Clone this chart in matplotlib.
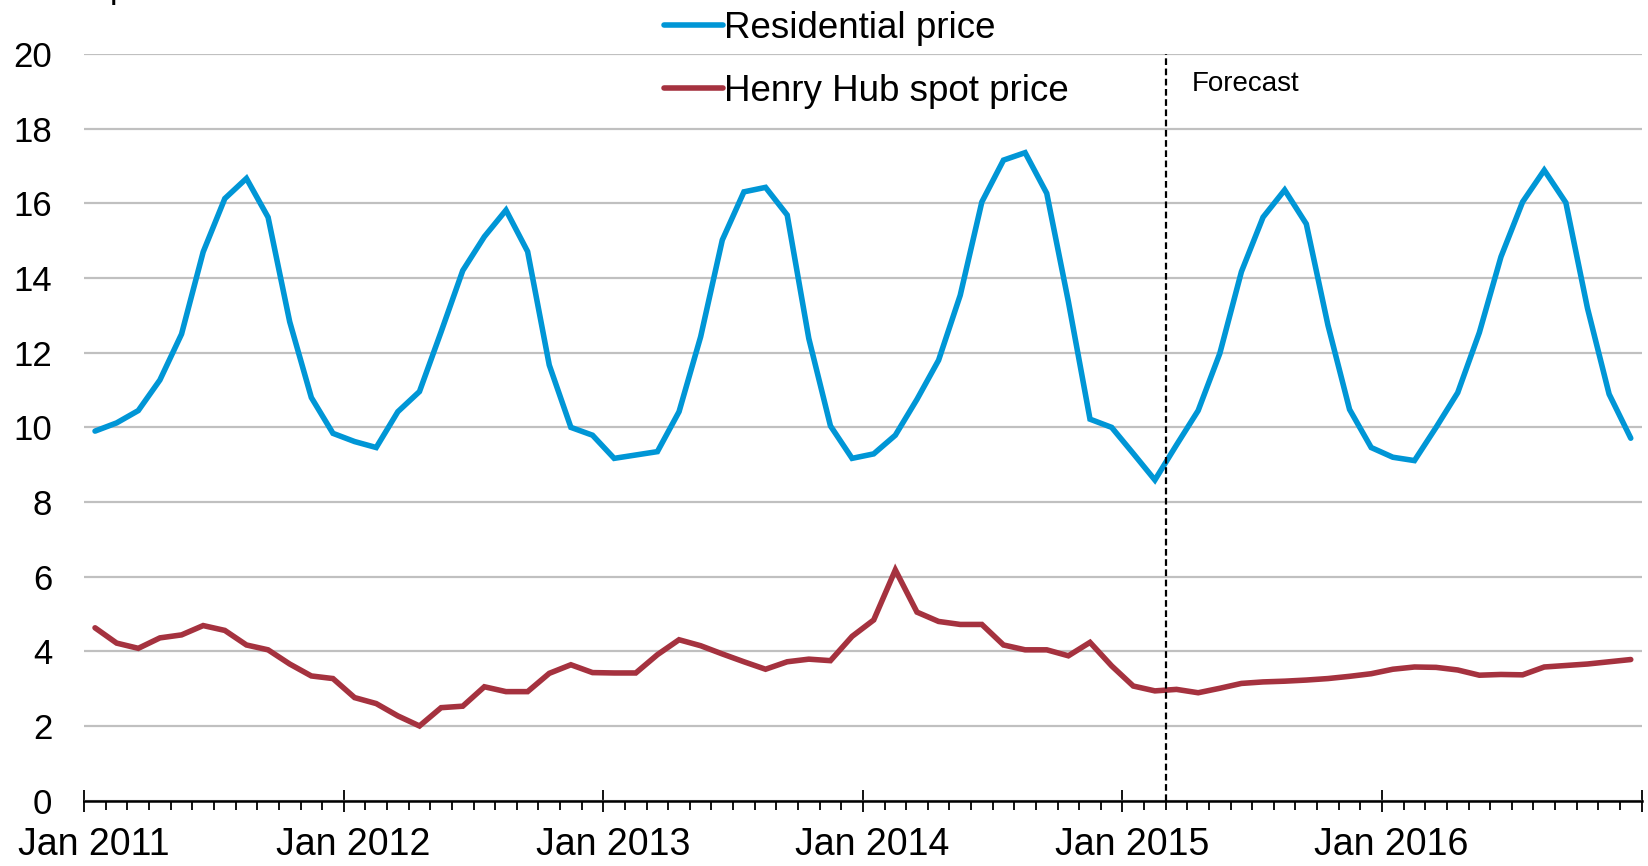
"""
Residential natural gas price vs Henry Hub spot price, 2011-2016 (monthly, forecast from Mar 2015).
"""

import matplotlib.pyplot as plt
import matplotlib.transforms as mtransforms
import numpy as np
import pandas as pd

plt.rcParams['font.family'] = ['Liberation Sans', 'DejaVu Sans']

# Monthly values, Jan 2011 .. Dec 2016 ($ per thousand cubic feet)
months = pd.date_range('2011-01-01', periods=72, freq='MS')
residential = [
    9.90, 10.12, 10.45, 11.27, 12.50, 14.70, 16.13, 16.67, 15.63, 12.83, 10.80, 9.84,   # 2011
    9.62, 9.46, 10.42, 10.96, 12.56, 14.20, 15.11, 15.82, 14.71, 11.67, 10.00, 9.79,    # 2012
    9.17, 9.26, 9.35, 10.42, 12.43, 15.02, 16.31, 16.43, 15.69, 12.38, 10.04, 9.17,     # 2013
    9.29, 9.79, 10.75, 11.80, 13.54, 16.04, 17.16, 17.36, 16.27, 13.37, 10.22, 10.00,   # 2014
    9.30, 8.59, 9.53, 10.45, 11.98, 14.17, 15.63, 16.36, 15.45, 12.74, 10.48, 9.46,     # 2015
    9.20, 9.11, 10.00, 10.93, 12.54, 14.57, 16.04, 16.89, 16.02, 13.19, 10.89, 9.71,    # 2016
]
henry_hub = [
    4.63, 4.22, 4.08, 4.36, 4.44, 4.69, 4.56, 4.17, 4.04, 3.66, 3.34, 3.27,   # 2011
    2.76, 2.60, 2.27, 2.00, 2.49, 2.53, 3.05, 2.92, 2.92, 3.41, 3.64, 3.43,   # 2012
    3.42, 3.42, 3.91, 4.31, 4.15, 3.93, 3.72, 3.52, 3.72, 3.79, 3.75, 4.40,   # 2013
    4.84, 6.18, 5.05, 4.80, 4.72, 4.72, 4.17, 4.04, 4.04, 3.88, 4.24, 3.61,   # 2014
    3.07, 2.94, 2.98, 2.89, 3.01, 3.14, 3.18, 3.20, 3.23, 3.27, 3.33, 3.40,   # 2015
    3.52, 3.58, 3.57, 3.50, 3.36, 3.38, 3.37, 3.58, 3.62, 3.66, 3.72, 3.78,   # 2016
]
year_labels = ['Jan 2011', 'Jan 2012', 'Jan 2013', 'Jan 2014', 'Jan 2015', 'Jan 2016', '']
forecast_start = pd.Timestamp('2015-03-01')

BLUE = '#0096D6'
RED = '#A5323F'

# category-style month axis: each month occupies one unit, point at its centre
x = np.arange(len(months)) + 0.5
forecast_x = months.get_loc(forecast_start)

fig = plt.figure(figsize=(16.48, 8.66), dpi=100)
ax = fig.add_axes([0.0511, 0.0755, 0.945, 0.862])

ax.plot(x, residential, color=BLUE, linewidth=4.0, label='Residential price',
        solid_joinstyle='miter', solid_capstyle='round', zorder=3)
ax.plot(x, henry_hub, color=RED, linewidth=4.0, label='Henry Hub spot price',
        solid_joinstyle='miter', solid_capstyle='round', zorder=3)

ax.axvline(forecast_x, color='black', linewidth=1.6, linestyle=(0, (3, 1.6)), zorder=4)
ax.text(forecast_x + 1.2, 19.0, 'Forecast', fontsize=20, color='black',
        ha='left', va='baseline')

ax.set_xlim(0, len(months))
ax.set_ylim(0, 20)
ax.set_yticks(np.arange(0, 21, 2))
ax.grid(axis='y', color='#C0C0C0', linewidth=1.6, zorder=0)
ax.set_axisbelow(True)

ax.set_xticks(np.arange(0, len(months) + 1, 12))
ax.set_xticklabels(year_labels)
ax.set_xticks(np.arange(0, len(months) + 1), minor=True)
ax.tick_params(axis='x', which='major', direction='inout', length=16, width=1.3,
               labelsize=27, pad=11, colors='black')
ax.tick_params(axis='x', which='minor', direction='out', length=6.5, width=1.3)
ax.tick_params(axis='y', length=0, labelsize=25, pad=23)

# year labels sit a little right of the year boundary, like the source
shift = mtransforms.ScaledTranslation(0.095, 0, fig.dpi_scale_trans)
for lbl in ax.get_xticklabels():
    lbl.set_transform(lbl.get_transform() + shift)

for side in ['left', 'right', 'top']:
    ax.spines[side].set_visible(False)
ax.spines['bottom'].set_color('black')
ax.spines['bottom'].set_linewidth(1.8)

# unit label sits mostly above the canvas, as in the source
fig.text(81 / 1648, 1 + 2 / 866, '$ per thousand cubic feet', fontsize=25,
         ha='left', va='baseline')

ax.legend(loc='upper left', bbox_to_anchor=(664 / 1648, 1 - 11 / 866),
          bbox_transform=fig.transFigure, frameon=False, fontsize=26.5,
          handlelength=1.6, handletextpad=0.04, labelspacing=0.75,
          borderpad=0, borderaxespad=0)

fig.savefig('out.png', dpi=100)
